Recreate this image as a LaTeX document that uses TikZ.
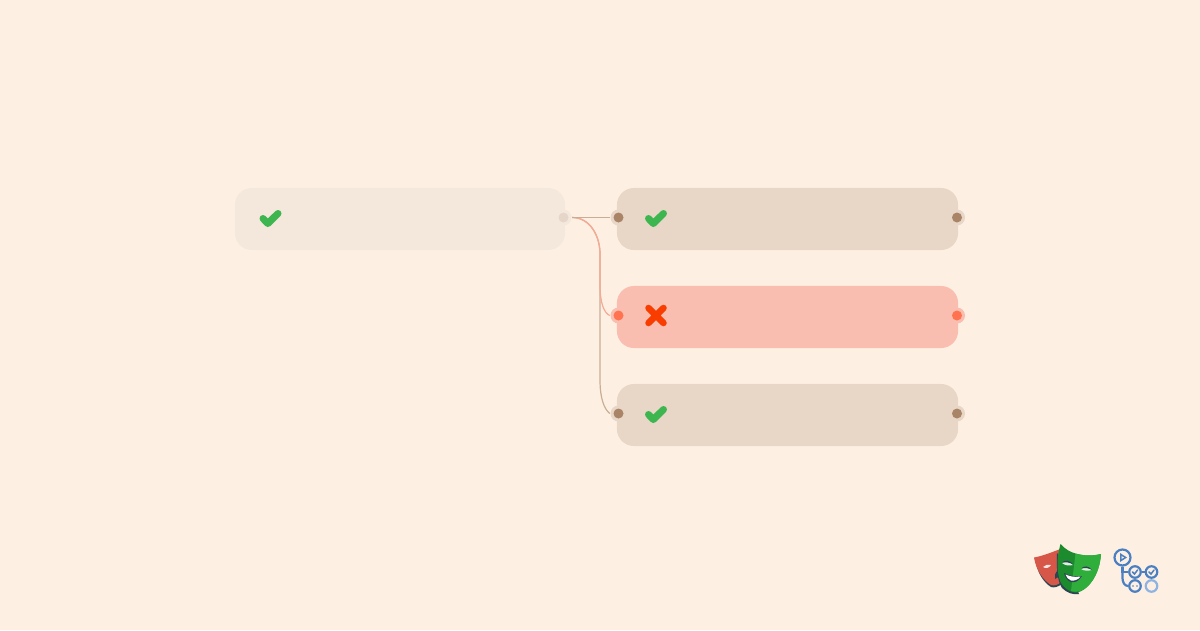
\documentclass[tikz,border=0pt]{standalone}
\usepackage{xcolor}
\usetikzlibrary{positioning}

\definecolor{pagebg}{HTML}{FDF0E3}
\definecolor{jobpale}{HTML}{F4E8DC}
\definecolor{jobtan}{HTML}{E8D7C7}
\definecolor{jobred}{HTML}{FABEB0}
\definecolor{portpale}{HTML}{E5D6C9}
\definecolor{portbrown}{HTML}{A98467}
\definecolor{portred}{HTML}{FF7350}
\definecolor{tickgreen}{HTML}{3DB650}
\definecolor{crossred}{HTML}{F93C00}
\definecolor{linetan}{HTML}{C9AE95}
\definecolor{linered}{HTML}{F7A994}
\definecolor{flowblue}{HTML}{4A7FC1}
\definecolor{flowlight}{HTML}{8DB3E2}
\definecolor{maskdark}{HTML}{2D4552}
\definecolor{maskred}{HTML}{D65648}
\definecolor{maskgreen}{HTML}{1C8B2E}
\definecolor{masklight}{HTML}{2FAE3C}

\tikzset{
  jobbox/.style={rectangle, rounded corners=0.17cm, minimum height=0.62cm, inner sep=0pt},
  halo/.style={circle, minimum size=0.16cm, inner sep=0pt},
  port/.style={circle, minimum size=0.1cm, inner sep=0pt},
  tickmark/.pic={\draw[tickgreen, line width=0.07cm, line cap=round, line join=round] (-7.5,0.5) -- (-2.7,5.5) -- (7.5,-4.5);},
  crossmark/.pic={\draw[crossred, line width=0.065cm, line cap=round] (-7.5,-7.5) -- (7.5,7.5) (-7.5,7.5) -- (7.5,-7.5);},
  flowring/.style={draw=flowblue, line width=0.022cm, circle, minimum size=0.115cm, inner sep=0pt}
}

\begin{document}
\begin{tikzpicture}[x=0.01cm, y=-0.01cm]

  % Page
  \fill[pagebg] (0,0) rectangle (1200,630);
  \useasboundingbox (0,0) rectangle (1200,630);

  % Job boxes
  \node[jobbox, fill=jobpale, minimum width=3.3cm] (build) at (400,219) {};
  \node[jobbox, fill=jobtan, minimum width=3.41cm] (testA) at (787.5,219) {};
  \node[jobbox, fill=jobred, minimum width=3.41cm] (testB) at (787.5,317) {};
  \node[jobbox, fill=jobtan, minimum width=3.41cm] (testC) at (787.5,415) {};

  % Port halos
  \node[halo, fill=jobpale] (buildHalo) at (563.5,217.5) {};
  \node[halo, fill=jobtan] (inHaloA) at (618.5,217.5) {};
  \node[halo, fill=jobred] (inHaloB) at (618.5,315.5) {};
  \node[halo, fill=jobtan] (inHaloC) at (618.5,413.5) {};
  \node[halo, fill=jobtan] (outHaloA) at (957,217.5) {};
  \node[halo, fill=jobred] (outHaloB) at (957,315.5) {};
  \node[halo, fill=jobtan] (outHaloC) at (957,413.5) {};

  % Bends of the connectors
  \coordinate (bendTop) at (600,254);
  \coordinate (bendRed) at (600,285);
  \coordinate (bendTan) at (600,380);

  % Connectors
  \draw[linetan, line width=0.012cm] (buildHalo.east) to[out=0, in=90] (bendTop) -- (bendTan) .. controls (600,398) and (604,409) .. (inHaloC.west);
  \draw[linered, line width=0.012cm] (buildHalo.east) to[out=0, in=90] (bendTop) -- (bendRed) .. controls (600,303) and (604,313) .. (inHaloB.west);
  \draw[linetan, line width=0.012cm] (buildHalo.east) -- (inHaloA.west);

  % Ports
  \node[port, fill=portpale] (buildPort) at (563.5,217.5) {};
  \node[port, fill=portbrown] (inPortA) at (618.5,217.5) {};
  \node[port, fill=portred] (inPortB) at (618.5,315.5) {};
  \node[port, fill=portbrown] (inPortC) at (618.5,413.5) {};
  \node[port, fill=portbrown] (outPortA) at (957,217.5) {};
  \node[port, fill=portred] (outPortB) at (957,315.5) {};
  \node[port, fill=portbrown] (outPortC) at (957,413.5) {};

  % Status icons
  \pic at (270.5,218) {tickmark};
  \pic at (656,218) {tickmark};
  \pic at (656,315.5) {crossmark};
  \pic at (656,414) {tickmark};

  % Red mask
  \fill[maskdark] (1035,559) .. controls (1042,557) and (1050,554) .. (1059,551) -- (1062,584) .. controls (1058,587) and (1054,588) .. (1051,587) .. controls (1043,582) and (1037,572) .. (1035,559) -- cycle;
  \fill[maskred] (1034,557.5) .. controls (1042,556) and (1050,553) .. (1059,549.5) -- (1061,582) .. controls (1058,585) and (1054,586) .. (1051,585) .. controls (1043,580) and (1036,570) .. (1034,557.5) -- cycle;
  \fill[white!85!maskred] (1043,567) .. controls (1046,569) and (1049,568) .. (1051,565) .. controls (1048,564) and (1045,565) .. (1043,567) -- cycle;
  \fill[maskdark] (1058,570) .. controls (1055,573) and (1054,576) .. (1055,579) -- (1060,576) -- cycle;

  % Green mask
  \fill[maskdark] (1057,553) .. controls (1056,570) and (1058,582) .. (1062,588) .. controls (1067,593) and (1073,595) .. (1079,594) -- (1070,570) -- cycle;
  \fill[maskgreen] (1060.5,544) .. controls (1065,549) and (1070,552) .. (1075.5,553.5) .. controls (1084,556) and (1093,556) .. (1101,554) .. controls (1100,568) and (1095,579) .. (1088,586) .. controls (1084,590) and (1079,593) .. (1075,592.5) .. controls (1069,592) and (1063,587) .. (1060.5,582) .. controls (1057,573) and (1056,560) .. (1060.5,544) -- cycle;
  \fill[masklight] (1075.5,553.5) .. controls (1084,556) and (1093,556) .. (1101,554) .. controls (1100,568) and (1095,579) .. (1088,586) .. controls (1084,590) and (1079,593) .. (1071,591) -- cycle;
  \fill[white!85!maskgreen] (1062,563) .. controls (1066,561) and (1070,562) .. (1073,565) .. controls (1069,566) and (1065,565.5) .. (1062,563) -- cycle;
  \fill[maskdark] (1062,562.5) .. controls (1065,559.5) and (1070,560) .. (1073,564.5) .. controls (1069,562) and (1066,562) .. (1062,562.5) -- cycle;
  \fill[white!85!masklight] (1081,569) .. controls (1085,567) and (1089,568) .. (1092,570) .. controls (1088,571) and (1084,571) .. (1081,569) -- cycle;
  \fill[maskdark] (1081,568.5) .. controls (1084,565.5) and (1089,565.5) .. (1092,570) .. controls (1089,568) and (1085,567.5) .. (1081,568.5) -- cycle;
  \fill[maskdark] (1064,573) .. controls (1070,576) and (1076,577) .. (1082,576) .. controls (1079,581) and (1075,583) .. (1071,582) .. controls (1068,581) and (1065,578) .. (1064,573) -- cycle;
  \fill[white] (1065.5,574.5) .. controls (1070,576.5) and (1075,577.5) .. (1080.5,576.5) .. controls (1078,580) and (1074,581) .. (1071,580.5) .. controls (1068,579.5) and (1066.5,577) .. (1065.5,574.5) -- cycle;

  % Workflow logo
  \node[flowring, minimum size=0.16cm] (flowStart) at (1122.5,557.5) {};
  \node[flowring] (flowCheckA) at (1135,572) {};
  \node[flowring] (flowCheckB) at (1151.5,572) {};
  \node[flowring] (flowWait) at (1135,586) {};
  \node[flowring, draw=flowlight] (flowIdle) at (1151.5,586) {};
  \draw[flowblue, line width=0.022cm] (flowStart.south) -- (1122.5,572) -- (flowCheckA.west);
  \draw[flowblue, line width=0.022cm] (flowStart.south) -- (1122.5,578) to[out=-90, in=180] (flowWait.west);
  \draw[flowblue, line width=0.022cm] (flowCheckA.east) -- (flowCheckB.west);
  \fill[flowblue] (1120,553) -- (1127,557.5) -- (1120,562) -- cycle;
  \fill[pagebg] (1121.5,556) -- (1124,557.5) -- (1121.5,559) -- cycle;
  \foreach \x in {1135,1151.5}
    \draw[flowblue, line width=0.015cm, line cap=round] (\x-2.5,572) -- (\x-0.5,574) -- (\x+2.5,570);
  \foreach \x in {1133,1137}
    \fill[flowblue] (\x,586) circle[radius=0.8];

\end{tikzpicture}
\end{document}
